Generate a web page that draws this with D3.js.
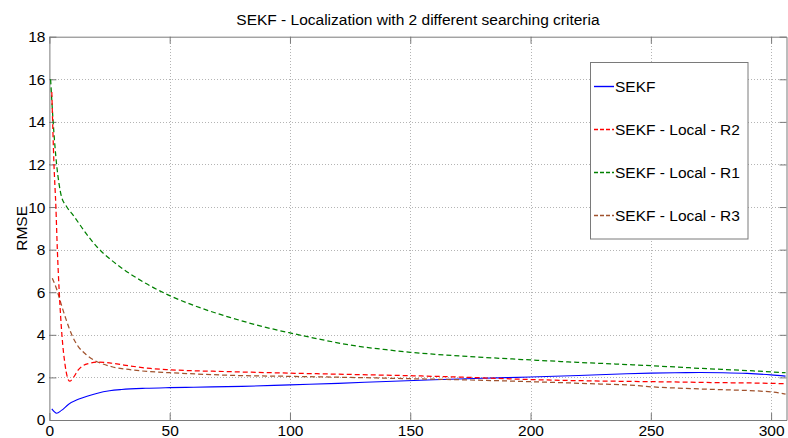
<!DOCTYPE html>
<html>
<head>
<meta charset="utf-8">
<script src="https://cdn.jsdelivr.net/npm/d3@7"></script>
<style>
  body { margin: 0; background: #fff; }
  svg { display: block; }
  text { font-family: Arial, "Liberation Sans", sans-serif; fill: #000; }
</style>
</head>
<body>
<svg id="chart" width="788" height="438"></svg>
<script>
// RMSE over time steps for the four filter variants
const sekfX = [1, 3, 5, 8, 12, 16, 20, 25, 30, 40, 50, 60, 80, 100, 120, 140, 160, 180, 200, 220, 240, 250, 260, 270, 280, 290, 300, 306];
const sekfY = [0.52, 0.32, 0.45, 0.74, 0.97, 1.13, 1.26, 1.37, 1.43, 1.49, 1.52, 1.54, 1.58, 1.65, 1.72, 1.81, 1.89, 1.96, 2.02, 2.09, 2.17, 2.20, 2.22, 2.23, 2.22, 2.19, 2.12, 2.06];

const r2X = [1, 1.9, 2.7, 3.3, 4.1, 5.2, 6.5, 8.4, 10, 12, 14, 16.5, 20, 25, 31, 42, 50, 75, 100, 125, 150, 175, 200, 229, 250, 275, 300, 306];
const r2Y = [15.4, 12, 10, 8, 6, 4, 2.6, 1.82, 2.0, 2.35, 2.55, 2.66, 2.72, 2.68, 2.58, 2.42, 2.36, 2.27, 2.2, 2.14, 2.08, 2.0, 1.9, 1.83, 1.8, 1.76, 1.72, 1.7];

const r1X = [0.5, 1.5, 3, 4, 5, 7, 10, 15, 20, 25, 30, 40, 50, 60, 75, 90, 100, 110, 125, 140, 150, 175, 200, 225, 241, 250, 270, 290, 300, 306];
const r1Y = [16, 14.1, 12, 11.1, 10.5, 10.05, 9.6, 8.8, 8.1, 7.58, 7.14, 6.42, 5.84, 5.38, 4.82, 4.35, 4.09, 3.85, 3.52, 3.3, 3.18, 2.98, 2.82, 2.68, 2.6, 2.55, 2.43, 2.32, 2.26, 2.22];

const r3X = [1.2, 3, 5, 7, 9.3, 12, 15, 19, 22, 26, 31, 42, 50, 75, 100, 125, 150, 175, 200, 229, 241, 250, 270, 300, 306];
const r3Y = [6.66, 6.15, 5.4, 4.7, 4.0, 3.45, 3.1, 2.78, 2.64, 2.5, 2.4, 2.27, 2.22, 2.1, 2.05, 2.0, 1.94, 1.88, 1.8, 1.69, 1.64, 1.56, 1.46, 1.32, 1.22];

const seriesNames = ["SEKF", "SEKF - Local - R2", "SEKF - Local - R1", "SEKF - Local - R3"];
const seriesColors = ["#0000ff", "#ff0000", "#008000", "#a0522d"];
const seriesDash = [null, "5,3", "5,3", "5,3"];

const xTicks = [0, 50, 100, 150, 200, 250, 300];
const yTicks = [0, 2, 4, 6, 8, 10, 12, 14, 16, 18];

const titleText = "SEKF - Localization with 2 different searching criteria";
const yLabel = "RMSE";

// layout
const plotLeft = 49.4, plotRight = 786.5, plotTop = 36.7, plotBottom = 420;
const fontSize = 15.5;
const svg = d3.select("#chart");

const x = d3.scaleLinear().domain([0, 306.4]).range([plotLeft, plotRight]);
const y = d3.scaleLinear().domain([0, 18]).range([plotBottom, plotTop]);

// grid
const grid = svg.append("g").attr("stroke", "#b4b4b4").attr("stroke-width", 1)
  .attr("stroke-dasharray", "1,2").attr("shape-rendering", "crispEdges");
grid.selectAll("line.gx").data(xTicks.filter(t => t > 0)).join("line")
  .attr("x1", d => Math.round(x(d)) + 0.5).attr("x2", d => Math.round(x(d)) + 0.5)
  .attr("y1", plotTop).attr("y2", plotBottom);
grid.selectAll("line.gy").data(yTicks.filter(t => t > 0 && t < 18)).join("line")
  .attr("y1", d => Math.round(y(d)) + 0.5).attr("y2", d => Math.round(y(d)) + 0.5)
  .attr("x1", plotLeft).attr("x2", plotRight);

// axes (ticks pointing inward, box around plot)
const axisColor = "#7a7a7a";
function styleAxis(g) {
  g.select(".domain").attr("stroke", axisColor);
  g.selectAll(".tick line").attr("stroke", axisColor);
  g.selectAll(".tick text").attr("font-size", fontSize).attr("fill", "#000");
}
svg.append("g").attr("transform", `translate(0,${plotBottom})`)
  .call(d3.axisBottom(x).tickValues(xTicks).tickSize(-7).tickSizeOuter(0).tickPadding(5))
  .call(styleAxis);
svg.append("g").attr("transform", `translate(0,${plotTop})`)
  .call(d3.axisTop(x).tickValues(xTicks).tickSize(-7).tickSizeOuter(0).tickFormat(""))
  .call(styleAxis);
svg.append("g").attr("transform", `translate(${plotLeft},0)`)
  .call(d3.axisLeft(y).tickValues(yTicks).tickSize(-7).tickSizeOuter(0).tickPadding(4))
  .call(styleAxis);
svg.append("g").attr("transform", `translate(${plotRight},0)`)
  .call(d3.axisRight(y).tickValues(yTicks).tickSize(-7).tickSizeOuter(0).tickFormat(""))
  .call(styleAxis);

// clip to plot area
svg.append("clipPath").attr("id", "plotClip").append("rect")
  .attr("x", plotLeft).attr("y", plotTop).attr("width", plotRight - plotLeft).attr("height", plotBottom - plotTop);

const series = [
  { xs: sekfX, ys: sekfY },
  { xs: r2X, ys: r2Y },
  { xs: r1X, ys: r1Y },
  { xs: r3X, ys: r3Y }
];
const line = d3.line().x(d => x(d[0])).y(d => y(d[1])).curve(d3.curveMonotoneX);
const plot = svg.append("g").attr("clip-path", "url(#plotClip)");
// solid line first, dashed ones over it
[0, 2, 3, 1].forEach(i => {
  const s = series[i];
  plot.append("path")
    .datum(s.xs.map((v, k) => [v, s.ys[k]]))
    .attr("fill", "none")
    .attr("stroke", seriesColors[i])
    .attr("stroke-width", i === 0 ? 1.1 : 1.25)
    .attr("stroke-dasharray", seriesDash[i])
    .attr("d", line);
});

// title and y label
svg.append("text").attr("x", (plotLeft + plotRight) / 2).attr("y", 25)
  .attr("text-anchor", "middle").attr("font-size", fontSize).text(titleText);
svg.append("text").attr("transform", `translate(27,${(plotTop + plotBottom) / 2}) rotate(-90)`)
  .attr("text-anchor", "middle").attr("font-size", fontSize).text(yLabel);

// legend
const lg = svg.append("g");
lg.append("rect").attr("x", 590.5).attr("y", 62.5).attr("width", 157.5).attr("height", 176.5)
  .attr("fill", "#fff").attr("stroke", axisColor);
const rowY = [86.5, 129.5, 172.5, 215.5];
seriesNames.forEach((name, i) => {
  lg.append("path")
    .attr("d", `M594,${rowY[i]}H614`)
    .attr("fill", "none")
    .attr("stroke", seriesColors[i]).attr("stroke-width", 1.4)
    .attr("stroke-dasharray", seriesDash[i] ? "4,2" : null);
  lg.append("text").attr("x", 615).attr("y", rowY[i] + 5.5)
    .attr("font-size", fontSize).text(name);
});
</script>
</body>
</html>
